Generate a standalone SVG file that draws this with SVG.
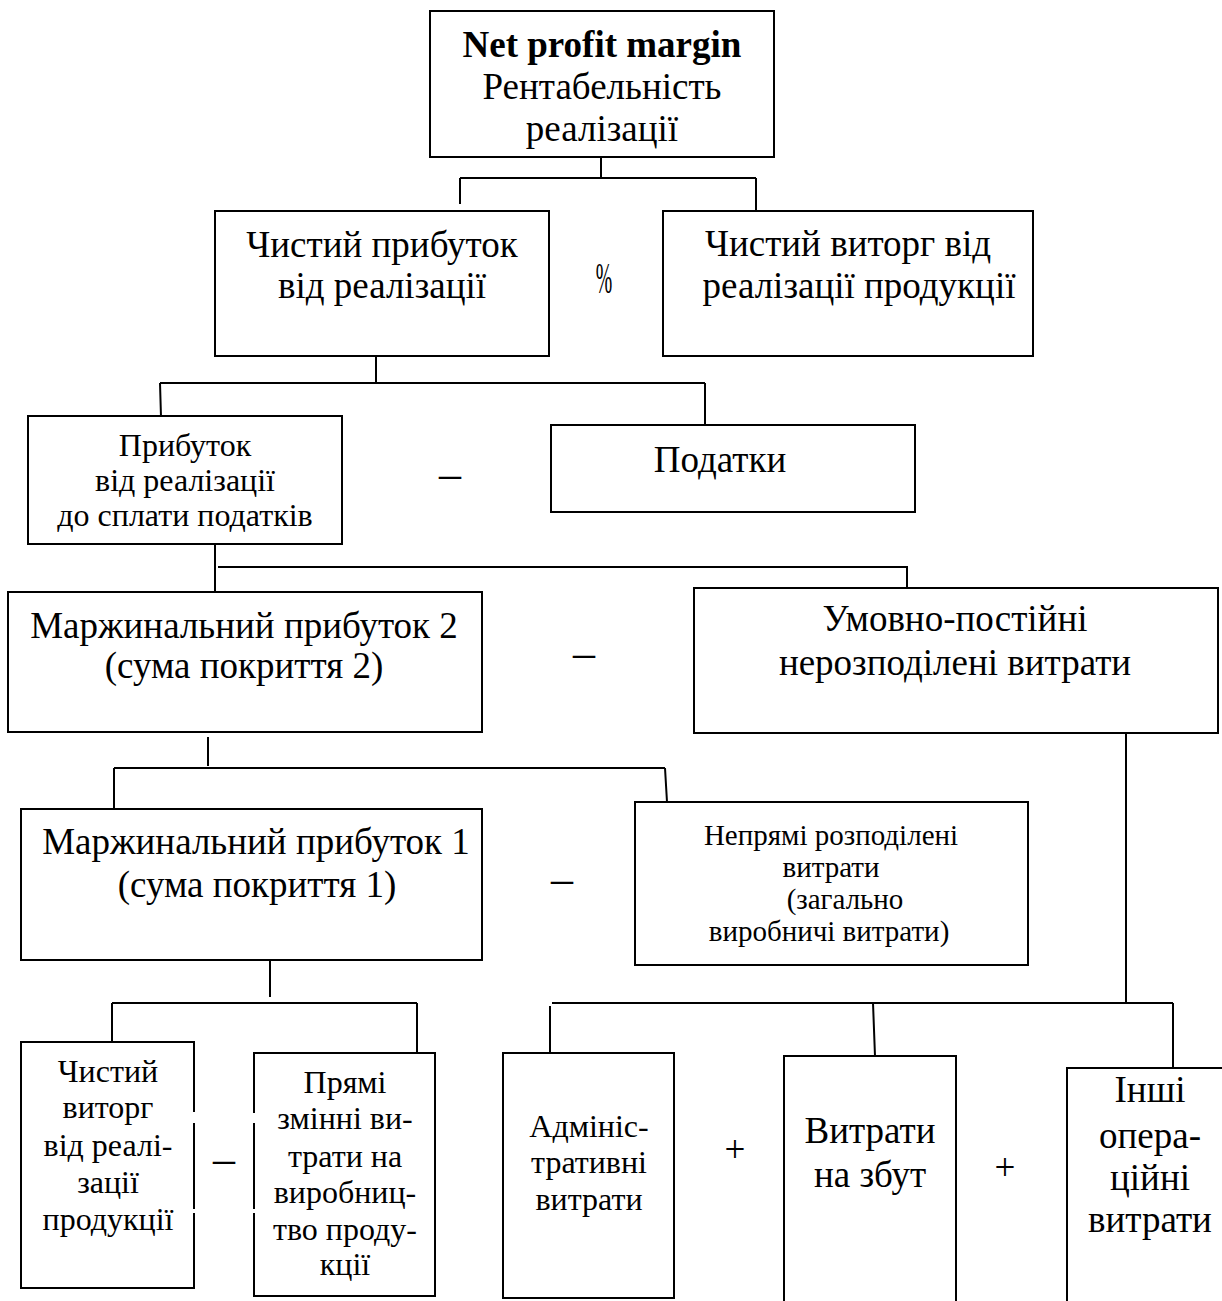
<svg xmlns="http://www.w3.org/2000/svg" width="1222" height="1301" viewBox="0 0 1222 1301">
  <style>
    .box { fill: #ffffff; stroke: #000000; stroke-width: 2; }
    .ln { fill: none; stroke: #000000; stroke-width: 2; }
    text { font-family: "Liberation Serif", "Times New Roman", serif; fill: #000000; text-anchor: middle; }
    .xl { font-size: 37px; }
    .md { font-size: 32px; }
    .sm { font-size: 29px; }
    .op { font-size: 44px; }
    .b { font-weight: bold; }
    .gap { fill: #ffffff; stroke: none; }
  </style>
  <rect width="1222" height="1301" fill="#ffffff"/>

  <!-- connectors -->
  <g id="connectors">
    <path class="ln" d="M601,157 V178 M460,178 H756 M460,178 V204 M756,178 V210"/>
    <path class="ln" d="M376,356 V383 M160,383 H705 M160,383 L161,417 M705,383 V425"/>
    <path class="ln" d="M215,544 V592 M218,567 H907 V588"/>
    <path class="ln" d="M208,737 V766 M114,768 H665 M114,768 V809 M665,768 L667,802"/>
    <path class="ln" d="M1126,733 V1003"/>
    <path class="ln" d="M270,960 V997 M112,1003 H417 M112,1003 V1042 M417,1003 V1053"/>
    <path class="ln" d="M552,1003 H1173 M550,1006 V1053 M873,1003 L875,1056 M1173,1003 V1068"/>
  </g>

  <!-- top: net profit margin -->
  <g id="n-margin">
    <rect class="box" x="430" y="11" width="344" height="146"/>
    <text class="xl b" x="602" y="57">Net profit margin</text>
    <text class="xl" x="602" y="99">Рентабельність</text>
    <text class="xl" x="602" y="141">реалізації</text>
  </g>

  <g id="n-net-profit">
    <rect class="box" x="215" y="211" width="334" height="145"/>
    <text class="xl" x="382" y="257">Чистий прибуток</text>
    <text class="xl" x="382" y="298">від реалізації</text>
  </g>

  <g id="op-divide">
    <text class="op" transform="translate(604 293) scale(0.45 1)" x="0" y="0">%</text>
  </g>

  <g id="n-net-sales">
    <rect class="box" x="663" y="211" width="370" height="145"/>
    <text class="xl" x="848" y="256">Чистий виторг від</text>
    <text class="xl" x="859" y="298">реалізації продукції</text>
  </g>

  <g id="n-pretax">
    <rect class="box" x="28" y="416" width="314" height="128"/>
    <text class="md" x="185" y="456">Прибуток</text>
    <text class="md" x="185" y="491">від реалізації</text>
    <text class="md" x="185" y="526">до сплати податків</text>
  </g>

  <g id="op-minus-1">
    <text class="op" x="450" y="488">–</text>
  </g>

  <g id="n-taxes">
    <rect class="box" x="551" y="425" width="364" height="87"/>
    <text class="xl" x="720" y="472">Податки</text>
  </g>

  <g id="n-margin-2">
    <rect class="box" x="8" y="592" width="474" height="140"/>
    <text class="xl" x="244" y="638">Маржинальний прибуток 2</text>
    <text class="xl" x="244" y="678">(сума покриття 2)</text>
  </g>

  <g id="op-minus-2">
    <text class="op" x="584" y="667">–</text>
  </g>

  <g id="n-fixed">
    <rect class="box" x="694" y="588" width="524" height="145"/>
    <text class="xl" x="955" y="631">Умовно-постійні</text>
    <text class="xl" x="955" y="675">нерозподілені витрати</text>
  </g>

  <g id="n-margin-1">
    <rect class="box" x="21" y="809" width="461" height="151"/>
    <text class="xl" x="256" y="854">Маржинальний прибуток 1</text>
    <text class="xl" x="257" y="897">(сума покриття 1)</text>
  </g>

  <g id="op-minus-3">
    <text class="op" x="562" y="893">–</text>
  </g>

  <g id="n-indirect">
    <rect class="box" x="635" y="802" width="393" height="163"/>
    <text class="sm" x="831" y="845">Непрямі розподілені</text>
    <text class="sm" x="831" y="877">витрати</text>
    <text class="sm" x="845" y="909">(загально</text>
    <text class="sm" x="829" y="941">виробничі витрати)</text>
  </g>

  <g id="n-sales-rev">
    <rect class="box" x="21" y="1042" width="173" height="246"/>
    <text class="md" x="108" y="1082">Чистий</text>
    <text class="md" x="108" y="1118">виторг</text>
    <text class="md" x="108" y="1156">від реалі-</text>
    <text class="md" x="108" y="1193">зації</text>
    <text class="md" x="108" y="1230">продукції</text>
  </g>

  <g id="op-minus-4">
    <text class="op" x="224" y="1173">–</text>
  </g>

  <g id="n-direct">
    <rect class="box" x="254" y="1053" width="181" height="243"/>
    <text class="md" x="345" y="1093">Прямі</text>
    <text class="md" x="345" y="1129">змінні ви-</text>
    <text class="md" x="345" y="1167">трати на</text>
    <text class="md" x="345" y="1203">виробниц-</text>
    <text class="md" x="345" y="1240">тво проду-</text>
    <text class="md" x="345" y="1275">кції</text>
  </g>

  <!-- small breaks in the facing edges of the two lower-left boxes -->
  <g id="edge-breaks">
    <rect class="gap" x="192" y="1112" width="4" height="11"/>
    <rect class="gap" x="192" y="1209" width="4" height="4"/>
    <rect class="gap" x="252" y="1113" width="4" height="10"/>
    <rect class="gap" x="252" y="1209" width="4" height="4"/>
  </g>

  <g id="n-admin">
    <rect class="box" x="503" y="1053" width="171" height="245"/>
    <text class="md" x="589" y="1137">Адмініс-</text>
    <text class="md" x="589" y="1173">тративні</text>
    <text class="md" x="589" y="1210">витрати</text>
  </g>

  <g id="op-plus-1">
    <text class="xl" x="735" y="1162">+</text>
  </g>

  <g id="n-selling">
    <rect class="box" x="784" y="1056" width="172" height="260"/>
    <text class="xl" x="870" y="1143">Витрати</text>
    <text class="xl" x="870" y="1187">на збут</text>
  </g>

  <g id="op-plus-2">
    <text class="xl" x="1005" y="1180">+</text>
  </g>

  <g id="n-other">
    <rect class="box" x="1067" y="1068" width="170" height="250"/>
    <text class="xl" x="1150" y="1102">Інші</text>
    <text class="xl" x="1150" y="1148">опера-</text>
    <text class="xl" x="1150" y="1190">ційні</text>
    <text class="xl" x="1150" y="1232">витрати</text>
  </g>
</svg>
